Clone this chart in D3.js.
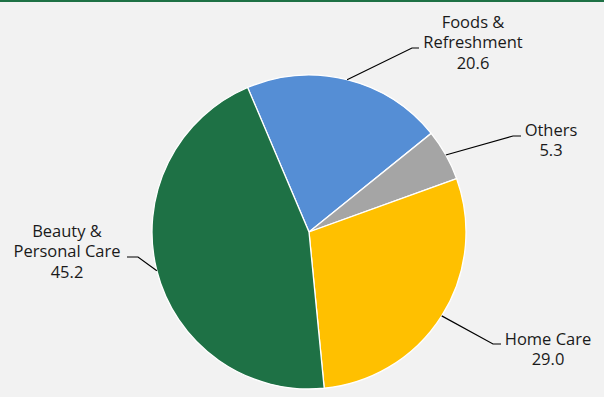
<!DOCTYPE html>
<html>
<head>
<meta charset="utf-8">
<script src="https://cdn.jsdelivr.net/npm/d3@7"></script>
<style>
  html, body { margin: 0; padding: 0; background: #f2f2f2; }
  svg { display: block; }
</style>
</head>
<body>
<svg id="chart" width="604" height="397"></svg>
<script>
// chart values
var categories = ["Foods & Refreshment", "Others", "Home Care", "Beauty & Personal Care"];
var labelLines = [["Foods &", "Refreshment"], ["Others"], ["Home Care"], ["Beauty &", "Personal Care"]];
var shares = [20.6, 5.3, 29.0, 45.2];

var colors = ["#558ed5", "#a5a5a5", "#ffc000", "#1e7145"];

// label layout (text centre x, first baseline y, elbow of the leader, end of the leader)
var labelX = [473, 551, 548, 67];
var labelY = [28, 136, 345, 237];
var elbowPts = [[412, 48], [513, 136], [493, 344], [138, 257]];
var elbowEnds = [419, 521, 501, 127];

var width = 604, height = 397;
var cx = 309, cy = 232, radius = 157;
var startDeg = -23;

var svg = d3.select("#chart");

svg.append("rect")
    .attr("width", width)
    .attr("height", height)
    .style("fill", "#f2f2f2");

svg.append("line")
    .attr("x1", 0).attr("x2", width)
    .attr("y1", 1).attr("y2", 1)
    .style("stroke", "#1e7145")
    .style("stroke-width", 2);

var pie = d3.pie()
    .sort(null)
    .value(function(d) { return d; })
    .startAngle(startDeg * Math.PI / 180)
    .endAngle((startDeg + 360) * Math.PI / 180);

var arcs = pie(shares);

var arc = d3.arc().innerRadius(0).outerRadius(radius);
var edgeArc = d3.arc().innerRadius(radius).outerRadius(radius);

var g = svg.append("g").attr("transform", "translate(" + cx + "," + cy + ")");

g.selectAll("path.slice")
    .data(arcs)
    .enter().append("path")
    .attr("class", "slice")
    .attr("d", arc)
    .style("fill", function(d, i) { return colors[i]; })
    .style("stroke", "#ffffff")
    .style("stroke-width", 1.3);

// leader lines
arcs.forEach(function(d, i) {
    var p0 = edgeArc.centroid(d);
    var pts = [
        [cx + p0[0], cy + p0[1]],
        elbowPts[i],
        [elbowEnds[i], elbowPts[i][1]]
    ];
    svg.append("polyline")
        .attr("points", pts.map(function(p) { return p.join(","); }).join(" "))
        .style("fill", "none")
        .style("stroke", "#000000")
        .style("stroke-width", 1.2);
});

// labels
arcs.forEach(function(d, i) {
    var lines = labelLines[i].concat([d3.format(".1f")(shares[i])]);
    var t = svg.append("text")
        .attr("x", labelX[i])
        .attr("y", labelY[i])
        .attr("text-anchor", "middle")
        .style("font-family", "'Open Sans', 'Noto Sans', sans-serif")
        .style("font-size", "16.5px")
        .style("fill", "#1a1a1a");
    lines.forEach(function(line, j) {
        t.append("tspan")
            .attr("x", labelX[i])
            .attr("dy", j == 0 ? 0 : 20.3)
            .text(line);
    });
});
</script>
</body>
</html>
